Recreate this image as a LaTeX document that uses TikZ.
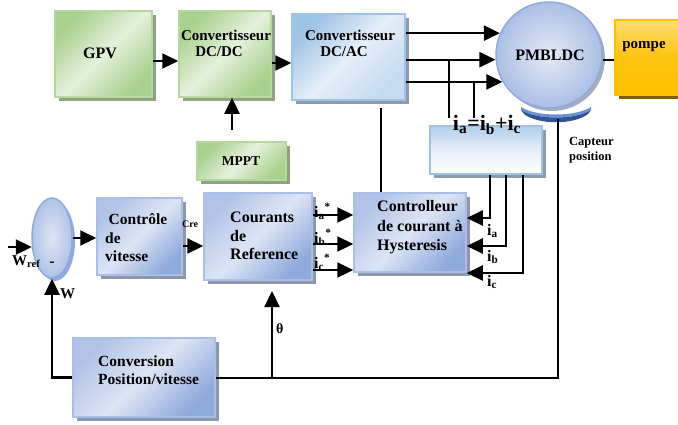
\documentclass[tikz,border=0pt]{standalone}
\usepackage{fontspec}
\setmainfont{Liberation Serif}
\usetikzlibrary{arrows.meta,shadows,calc,shapes.geometric}

\definecolor{gEdge}{HTML}{A9D18E}
\definecolor{gMid}{HTML}{E4F1DC}
\definecolor{gLine}{HTML}{B5D99C}
\definecolor{gShadow}{HTML}{8FA283}
\definecolor{bEdge}{HTML}{9DC3E6}
\definecolor{bMid}{HTML}{E6EEF8}
\definecolor{bLine}{HTML}{9DC3E6}
\definecolor{bShadow}{HTML}{8E9AAE}
\definecolor{pEdge}{HTML}{8FAADC}
\definecolor{pMid}{HTML}{DDE5F5}
\definecolor{pLine}{HTML}{A9BEE8}
\definecolor{pShadow}{HTML}{8F97AD}
\definecolor{oTop}{HTML}{FFDD70}
\definecolor{oBot}{HTML}{FFC000}
\definecolor{oShadow}{HTML}{7F6000}
\definecolor{sensLight}{HTML}{6D8FD3}
\definecolor{sensDark}{HTML}{2F5597}

\tikzset{
  arr/.style={line width=2.3pt, -{Triangle[length=16pt,width=15pt]}},
  wire/.style={line width=2pt},
  fbarr/.style={line width=2.1pt, -{Triangle[length=16pt,width=15pt]}},
  greenbox/.style={rectangle, draw=gLine, line width=1.5pt, inner sep=0pt,
    top color=gEdge, bottom color=gEdge, middle color=gMid, shading angle=45,
    drop shadow={shadow xshift=4pt, shadow yshift=-4pt, fill=gShadow, opacity=1}},
  bluebox/.style={rectangle, draw=bLine, line width=1.5pt, inner sep=0pt,
    top color=bEdge, bottom color=bEdge!60, middle color=bMid, shading angle=45,
    drop shadow={shadow xshift=4pt, shadow yshift=-4pt, fill=bShadow, opacity=1}},
  ctrlbox/.style={rectangle, draw=pLine, line width=1.5pt, inner sep=0pt,
    top color=pEdge!70, bottom color=pEdge, middle color=pMid, shading angle=45,
    drop shadow={shadow xshift=4pt, shadow yshift=-4pt, fill=pShadow, opacity=1}},
  lbl/.style={inner sep=0pt, font=\bfseries\fontsize{16}{19}\selectfont},
  lblm/.style={inner sep=0pt, font=\bfseries\fontsize{15}{18}\selectfont},
}

\begin{document}
\begin{tikzpicture}[x=1pt,y=-1pt]
\useasboundingbox (0,0) rectangle (678,424);

% ---------------- power chain ----------------
\node[greenbox, minimum width=97pt, minimum height=86pt] (gpv) at (103.5,54) {};
\node[lbl] (gpvtxt) at (100,53) {GPV};

\node[greenbox, minimum width=92pt, minimum height=86pt] (dcdc) at (225,54) {};
\node[lblm] (dcdc1) at (226,35) {Convertisseur};
\node[lblm] (dcdc2) at (219,52) {DC/DC};

\node[bluebox, minimum width=113pt, minimum height=86pt] (dcac) at (348.5,57) {};
\node[lblm] (dcac1) at (350,35) {Convertisseur};
\node[lblm] (dcac2) at (344,52) {DC/AC};

\node[greenbox, minimum width=89pt, minimum height=38pt] (mppt) at (241.5,161) {};
\node[inner sep=0pt, font=\bfseries\fontsize{13.5}{16}\selectfont] (mppttxt) at (241,161) {MPPT};

% motor
\node[circle, minimum size=106pt, inner sep=0pt, draw=pEdge, line width=1.5pt,
      inner color=pMid!80!white, outer color=pEdge!75,
      drop shadow={shadow xshift=3pt, shadow yshift=-3pt, fill=pShadow!80, opacity=1}] (pm) at (549,55) {};
\node[lbl] (pmtxt) at (550,55) {PMBLDC};

% pump
\node[rectangle, draw=oBot, line width=1.5pt, inner sep=0pt, minimum width=67pt, minimum height=75pt,
      top color=oTop, bottom color=oBot, middle color=oBot!85!oTop,
      drop shadow={shadow xshift=4pt, shadow yshift=-4pt, fill=oShadow, opacity=1}] (pompe) at (648.5,57.5) {};
\node[lblm] (pompetxt) at (644,47) {pompe};

% position sensor under the motor
\fill[sensLight] (521,107) .. controls (536,117) and (576,117) .. (591,107)
  -- (591,110) .. controls (576,120) and (536,120) .. (521,110) -- cycle;
\fill[sensDark] (521,110) .. controls (536,120) and (576,120) .. (591,110)
  -- (588,114) .. controls (574,125) and (538,125) .. (524,114) -- cycle;
\coordinate (sens) at (558,119);
\node[inner sep=0pt, align=left, anchor=west, font=\bfseries\fontsize{12.5}{15.5}\selectfont] (capt) at (569,150) {Capteur\\position};

% current-sum box
\node[bluebox, minimum width=112pt, minimum height=48pt, top color=bEdge!80, bottom color=white, middle color=bMid] (iabox) at (486,150) {};
\node[inner sep=0pt, font=\bfseries\fontsize{22}{24}\selectfont] (iaeq) at (487,125)
  {i\textsubscript{a}=i\textsubscript{b}+i\textsubscript{c}};

% ---------------- control chain ----------------
\node[ellipse, minimum width=40pt, minimum height=80pt, inner sep=0pt, draw=pEdge, line width=1.5pt,
      inner color=pMid, outer color=pEdge!70,
      drop shadow={shadow xshift=3pt, shadow yshift=-3pt, fill=pEdge, opacity=1}] (sum) at (52,238) {};

\node[ctrlbox, minimum width=85pt, minimum height=77pt] (ctrlv) at (139.5,236.5) {};
\node[lbl, align=left, anchor=west, font=\bfseries\fontsize{15.5}{18.5}\selectfont] (ctrlvtxt) at (105,238) {\hspace{3.5pt}Contrôle\\de\\vitesse};

\node[ctrlbox, minimum width=108pt, minimum height=87pt] (cour) at (258,236.5) {};
\node[lbl, align=left, anchor=west, font=\bfseries\fontsize{16}{18.5}\selectfont] (courtxt) at (230,236) {Courants\\de\\Reference};

\node[ctrlbox, minimum width=112pt, minimum height=79pt] (hyst) at (410,232.5) {};
\node[lbl, align=left, anchor=west, font=\bfseries\fontsize{16}{19.5}\selectfont] (hysttxt) at (377,227.5) {Controlleur\\de courant à\\Hysteresis};

\node[ctrlbox, minimum width=142pt, minimum height=79pt] (conv) at (144,377.5) {};
\node[lbl, align=left, anchor=west, font=\bfseries\fontsize{15.5}{18}\selectfont] (convtxt) at (98,370) {Conversion\\Position/vitesse};

% ---------------- connectors ----------------
\coordinate (a1) at ($(gpv.east)+(0,7)$);
\draw[arr] (a1) -- (a1 -| dcdc.west);
\coordinate (a2) at ($(dcdc.east)+(0,9)$);
\draw[arr] (a2) -- (a2 -| dcac.west);
\coordinate (mpptout) at (232,130);
\draw[arr] (mpptout) -- (mpptout |- dcdc.south);

\draw[arr] (pm.156.7 -| dcac.east) -- (pm.156.7);
\draw[arr] (pm.185.4 -| dcac.east) -- (pm.185.4);
\draw[arr] (pm.210.6 -| dcac.east) -- (pm.210.6);
\draw[wire] (pm.-5) -- (pm.-5 -| pompe.west);

% current measurement taps
\coordinate (tap1) at (449,60);
\coordinate (tap2) at (474,82);
\draw[wire] (tap1) -- (tap1 |- 0,118);
\draw[wire] (tap2) -- (tap2 |- 0,118);

% inverter to hysteresis controller
\coordinate (dv) at (381,108);
\draw[wire] (dv) -- (dv |- hyst.north);

% measured currents back to the controller
\draw[fbarr] (iabox.south -| 490,0) |- (hyst.east |- 0,218);
\draw[fbarr] (iabox.south -| 506,0) |- (hyst.east |- 0,246);
\draw[fbarr] (iabox.south -| 523,0) |- (hyst.east |- 0,273);
\node[lbl, anchor=base west] (ia) at (487,235) {i\textsubscript{a}};
\node[lbl, anchor=base west] (ib) at (487,261) {i\textsubscript{b}};
\node[lbl, anchor=base west] (ic) at (487,286) {i\textsubscript{c}};

% reference currents
\draw[arr] (cour.east |- 0,215) -- (hyst.west |- 0,215);
\draw[arr] (cour.east |- 0,244) -- (hyst.west |- 0,244);
\draw[arr] (cour.east |- 0,270) -- (hyst.west |- 0,270);
\node[lbl, anchor=base west] (ias) at (314,217) {i\textsubscript{a}\textsuperscript{*}};
\node[lbl, anchor=base west] (ibs) at (314,243) {i\textsubscript{b}\textsuperscript{*}};
\node[lbl, anchor=base west] (ics) at (314,268) {i\textsubscript{c}\textsuperscript{*}};

% speed loop
\coordinate (win) at (8,0);
\draw[arr] (sum.204.8 -| win) -- (sum.204.8);
\draw[arr] (sum.east) -- (sum.east -| ctrlv.west);
\coordinate (cre) at ($(ctrlv.east)+(0,9.5)$);
\draw[arr] (cre) -- (cre -| cour.west);
\node[inner sep=0pt, font=\bfseries\fontsize{10}{12}\selectfont] (cretxt) at (190,224) {Cre};

\node[inner sep=0pt, anchor=base west, font=\bfseries\fontsize{15}{18}\selectfont] (wref) at (12,265) {W\textsubscript{ref}};
\node[lbl] (minus) at (52,264) {-};
\node[inner sep=0pt, anchor=base west, font=\bfseries\fontsize{15}{18}\selectfont] (wlbl) at (60,298) {W};

% position feedback
\draw[wire] (sens) |- (conv.east);
\draw[arr] (conv.west) -| (sum.south);
\coordinate (thj) at (272,377.5);
\coordinate (tht) at (272,291);
\draw[arr] (thj) -- (tht);
\node[inner sep=0pt, anchor=base west, font=\bfseries\fontsize{14}{16}\selectfont] (theta) at (276,333) {θ};

\end{tikzpicture}
\end{document}
